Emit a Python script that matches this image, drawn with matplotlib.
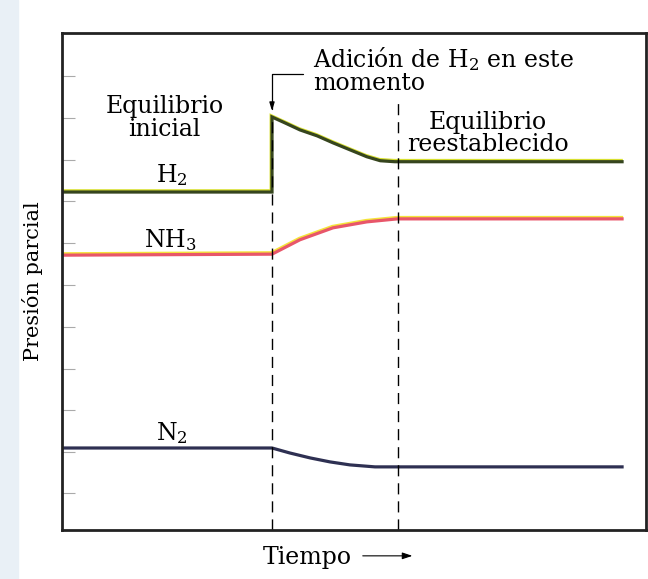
import matplotlib.pyplot as plt
import matplotlib.patheffects as pe
from matplotlib.patches import Rectangle

plt.rcParams['font.family'] = ['DejaVu Serif']
plt.rcParams['mathtext.fontset'] = 'dejavuserif'

# tiempo (unidades arbitrarias) y presiones parciales
t_h2 = [0, 35.96, 35.96, 38.2, 40.75, 43.7, 46.4, 49.3, 52.2, 54.5, 57.0, 95.9]
p_h2 = [68.0, 68.0, 83.1, 81.9, 80.5, 79.3, 77.9, 76.5, 75.1, 74.3, 74.1, 74.1]

t_nh3 = [0, 35.96, 40.75, 46.4, 52.2, 57.4, 95.9]
p_nh3 = [55.3, 55.5, 58.4, 60.8, 62.0, 62.6, 62.6]

t_n2 = [0, 35.96, 39.0, 42.5, 45.9, 49.3, 53.6, 95.9]
p_n2 = [16.5, 16.5, 15.5, 14.5, 13.7, 13.1, 12.7, 12.7]

t_add = 35.96
t_eq = 57.5
y_ticks = [91.3, 82.9, 74.4, 66.2, 57.7, 49.3, 40.8, 32.4, 24.1, 15.7, 7.4]

fig = plt.figure(figsize=(6.48, 5.79), dpi=100)
fig.patches.append(Rectangle((0, 0), 18 / 648, 1, transform=fig.transFigure,
                             color='#e9f0f6', zorder=0))
ax = fig.add_axes([62 / 648, 1 - 530 / 579, 584 / 648, 497 / 579])

ax.plot(t_h2, p_h2, color='#36451e', lw=2.3, solid_joinstyle='miter',
        path_effects=[pe.SimpleLineShadow(offset=(-0.6, 0.9), shadow_color='#d8e030', alpha=1),
                      pe.Normal()])
ax.plot(t_nh3, p_nh3, color='#e8566a', lw=2.3,
        path_effects=[pe.SimpleLineShadow(offset=(-0.4, 1.0), shadow_color='#f4e43a', alpha=1),
                      pe.Normal()])
ax.plot(t_n2, p_n2, color='#2e3052', lw=2.3)

ax.vlines([t_add, t_eq], 0, [83.1, 86.5], colors='black', lw=1.0,
          linestyles=[(0, (8, 5))])

ax.set_xlim(0, 100)
ax.set_ylim(0, 100)
ax.set_xticks([])
ax.set_yticks(y_ticks)
ax.tick_params(axis='y', direction='in', length=9, width=0.8, color='#aaaaaa',
               labelleft=False)
for s in ax.spines.values():
    s.set_linewidth(2)
    s.set_color('#222222')

fs = 17
ax.text(43.0, 97.6, 'Adición de H$_2$ en este\nmomento', fontsize=fs, ha='left',
        va='top', linespacing=0.95)
ax.annotate('', xy=(t_add, 84.3), xytext=(41.3, 91.7),
            arrowprops=dict(arrowstyle='-|>,head_length=0.5,head_width=0.15',
                            connectionstyle='angle,angleA=0,angleB=90,rad=0',
                            color='black', lw=0.9, shrinkA=0, shrinkB=0))
ax.text(17.6, 82.9, 'Equilibrio\ninicial', fontsize=fs, ha='center', va='center',
        linespacing=0.95)
ax.text(72.9, 79.7, 'Equilibrio\nreestablecido', fontsize=fs, ha='center', va='center',
        linespacing=0.95)
ax.text(18.8, 71.4, 'H$_2$', fontsize=fs, ha='center', va='center')
ax.text(18.5, 58.4, 'NH$_3$', fontsize=fs, ha='center', va='center')
ax.text(18.8, 19.5, 'N$_2$', fontsize=fs, ha='center', va='center')

ax.set_ylabel('Presión parcial', fontsize=15, labelpad=14)
ax.text(0.42, -0.056, 'Tiempo', transform=ax.transAxes, fontsize=fs,
        ha='center', va='center')
ax.annotate('', xy=(0.6, -0.052), xytext=(0.515, -0.052), xycoords='axes fraction',
            arrowprops=dict(arrowstyle='-|>,head_length=0.6,head_width=0.2',
                            color='black', lw=0.8, shrinkA=0, shrinkB=0))

fig.savefig('out.png', dpi=100)
